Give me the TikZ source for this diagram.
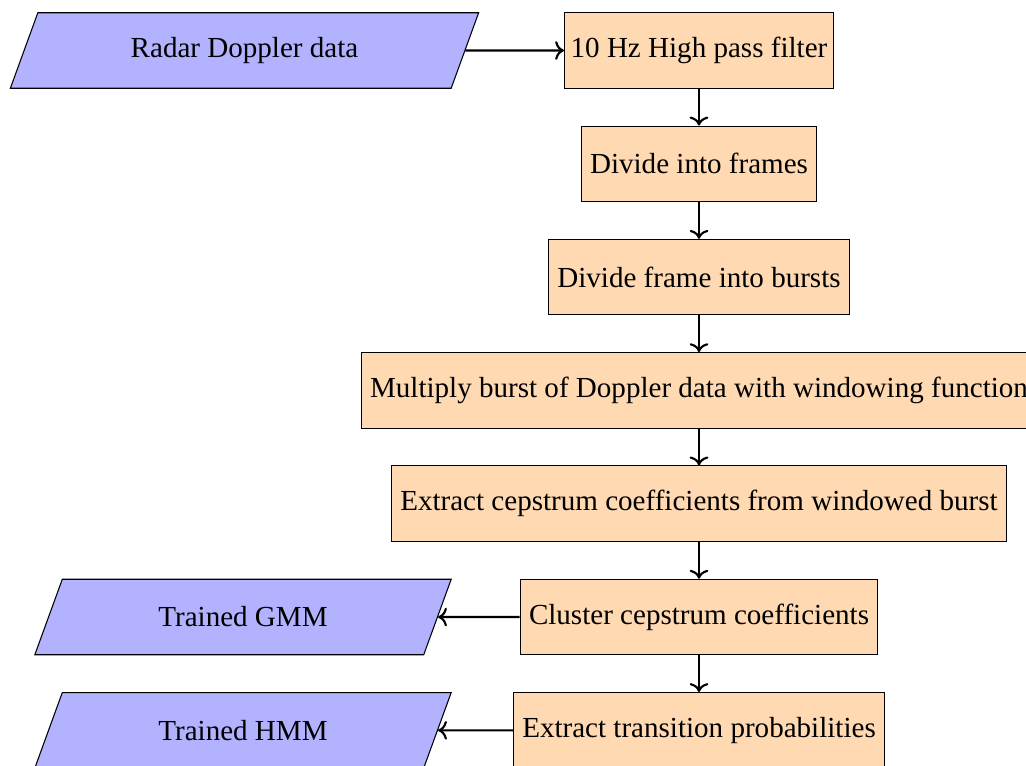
\documentclass[tikz,border=0pt]{standalone}
\usepackage{fontspec}
\setmainfont{Liberation Serif}
\usetikzlibrary{shapes.geometric,arrows.meta}
\begin{document}
\begin{tikzpicture}[x=0.3768pt,y=0.3768pt,
 proc/.style={rectangle, draw, fill=orange!30, minimum height=1cm, font=\fontsize{10.95}{13}\selectfont},
 io/.style={trapezium, trapezium left angle=70, trapezium right angle=110, trapezium stretches=true, draw, fill=blue!30, text height=7.5pt, text depth=2.5pt, inner ysep=9.225pt, inner xsep=35pt, font=\fontsize{10.95}{13}\selectfont},
 iotrained/.style={io, text depth=0pt, inner ysep=10.475pt, inner xsep=36.2pt},
 arr/.style={->, thick}]
\useasboundingbox (0,0) rectangle (1026,-765);
\node[io] (radar) at (244.5,-50.5) {Radar Doppler data};
\node[proc, inner xsep=2.3pt] (hp) at (699,-50.5) {10 Hz High pass filter};
\node[proc] (frames) at (699,-163.8) {Divide into frames};
\node[proc] (bursts) at (699,-277.1) {Divide frame into bursts};
\node[proc] (mult) at (699,-390.4) {Multiply burst of Doppler data with windowing function};
\node[proc] (ceps) at (699,-503.7) {Extract cepstrum coefficients from windowed burst};
\node[proc] (clus) at (699,-617) {Cluster cepstrum coefficients};
\node[proc] (trans) at (699,-730.3) {Extract transition probabilities};
\node[iotrained] (gmm) at (243,-617) {Trained GMM};
\node[iotrained] (hmm) at (243,-730.3) {Trained HMM};
\draw[arr] (radar.east) -- (hp.west);
\draw[arr] (hp) -- (frames);
\draw[arr] (frames) -- (bursts);
\draw[arr] (bursts) -- (mult);
\draw[arr] (mult) -- (ceps);
\draw[arr] (ceps) -- (clus);
\draw[arr] (clus) -- (trans);
\draw[arr] (clus.west) -- (gmm.east);
\draw[arr] (trans.west) -- (hmm.east);
\end{tikzpicture}
\end{document}
